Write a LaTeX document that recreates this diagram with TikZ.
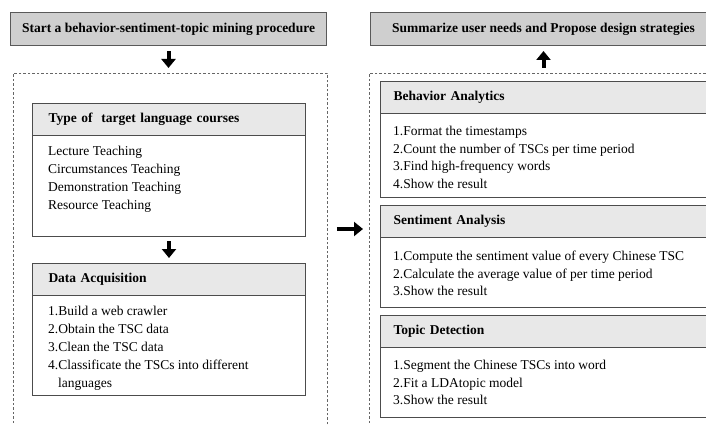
\documentclass[tikz,border=0pt]{standalone}
\usepackage{fontspec}
\setmainfont{Liberation Serif}
\usetikzlibrary{positioning,arrows.meta,calc}

\begin{document}
\begin{tikzpicture}[
                x=1pt, y=-1pt,
                every node/.style={inner sep=0pt, font=\fontsize{13.5}{18}\selectfont},
                topbox/.style={draw=black!65, line width=1pt, fill=black!19, minimum height=33pt, font=\fontsize{13.5}{16}\selectfont\bfseries},
                panel/.style={draw=black!60, line width=0.8pt, dash pattern=on 2.5pt off 2pt},
                frame/.style={draw=black!70, line width=1pt},
                headbox/.style={draw=black!70, line width=1pt, fill=black!9, minimum height=32pt, align=left, font=\fontsize{13.5}{16}\selectfont\bfseries},
                items/.style={align=left},
                bigarrow/.style={-{Triangle[width=14pt,length=9pt]}, line width=4pt}
            ]

            \useasboundingbox (0,0) rectangle (706,425);
            \clip (0,0) rectangle (706,425);

            % top boxes
            \node[topbox, minimum width=316, anchor=north west] (start) at (10,12) {Start a behavior-sentiment-topic mining procedure};
            \node[topbox, minimum width=346, anchor=north west] (summary) at (370,12) {Summarize user needs and Propose design strategies};

            % dashed panels
            \node[panel, minimum width=314, minimum height=370, anchor=north west] (leftpanel) at (13,73) {};
            \node[panel, minimum width=350, minimum height=370, anchor=north west] (rightpanel) at (369,73) {};

            % left column
            \node[frame, minimum width=273, minimum height=133, anchor=north west] (typebox) at (32,103) {};
            \node[headbox, inner xsep=16pt, text width=241pt, anchor=north west] (typehead) at (typebox.north west) {Type of\ \ target language courses};
            \node[items, below right=10pt and 16pt of typehead.south west] (typeitems) {Lecture Teaching\\Circumstances Teaching\\Demonstration Teaching\\Resource Teaching};

            \node[frame, minimum width=273, minimum height=132, anchor=north west] (acqbox) at (32,263) {};
            \node[headbox, inner xsep=16pt, text width=241pt, anchor=north west] (acqhead) at (acqbox.north west) {Data Acquisition};
            \node[items, below right=10pt and 16pt of acqhead.south west] (acqitems) {1.Build a web crawler\\2.Obtain the TSC data\\3.Clean the TSC data\\4.Classificate the TSCs into different\\\hspace*{10pt}languages};

            % right column
            \node[frame, minimum width=336, minimum height=116, anchor=north west] (behavbox) at (380,81) {};
            \node[headbox, inner xsep=13pt, text width=310pt, anchor=north west] (behavhead) at (behavbox.north west) {Behavior Analytics};
            \node[items, below right=12pt and 13pt of behavhead.south west, font=\fontsize{13.5}{17.5}\selectfont] (behavitems) {1.Format the timestamps\\2.Count the number of TSCs per time period\\3.Find high-frequency words\\4.Show the result};

            \node[frame, minimum width=336, minimum height=102, anchor=north west] (sentbox) at (380,205) {};
            \node[headbox, inner xsep=13pt, text width=310pt, anchor=north west] (senthead) at (sentbox.north west) {Sentiment Analysis};
            \node[items, below right=13pt and 13pt of senthead.south west, font=\fontsize{13.5}{17.5}\selectfont] (sentitems) {1.Compute the sentiment value of every Chinese TSC\\2.Calculate the average value of per time period\\3.Show the result};

            \node[frame, minimum width=336, minimum height=102, anchor=north west] (topicbox) at (380,315) {};
            \node[headbox, inner xsep=13pt, text width=310pt, anchor=north west] (topichead) at (topicbox.north west) {Topic Detection};
            \node[items, below right=12pt and 13pt of topichead.south west, font=\fontsize{13.5}{17.5}\selectfont] (topicitems) {1.Segment the Chinese TSCs into word\\2.Fit a LDAtopic model\\3.Show the result};

            % arrows
            \draw[bigarrow, shorten <=5pt, shorten >=5pt] (start.south) -- (start.south |- leftpanel.north);
            \draw[bigarrow, shorten <=4pt, shorten >=5pt] (typebox) -- (acqbox);
            \draw[bigarrow, shorten <=5pt, shorten >=5pt] (summary.south |- rightpanel.north) -- (summary.south);
            \draw[bigarrow, shorten <=9pt, shorten >=6pt] ($(leftpanel.north east)+(0,156)$) -- ($(rightpanel.north west)+(0,156)$);

        \end{tikzpicture}
\end{document}
